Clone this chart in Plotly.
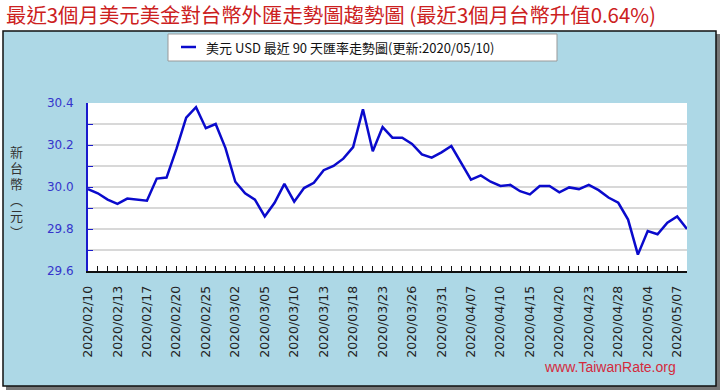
import plotly.graph_objects as go

# ---- data ----
dates = [
    "2020/02/10", "2020/02/11", "2020/02/12", "2020/02/13", "2020/02/14", "2020/02/15",
    "2020/02/17", "2020/02/18", "2020/02/19", "2020/02/20", "2020/02/21", "2020/02/24",
    "2020/02/25", "2020/02/26", "2020/02/27", "2020/03/02", "2020/03/03", "2020/03/04",
    "2020/03/05", "2020/03/06", "2020/03/09", "2020/03/10", "2020/03/11", "2020/03/12",
    "2020/03/13", "2020/03/16", "2020/03/17", "2020/03/18", "2020/03/19", "2020/03/20",
    "2020/03/23", "2020/03/24", "2020/03/25", "2020/03/26", "2020/03/27", "2020/03/30",
    "2020/03/31", "2020/04/01", "2020/04/06", "2020/04/07", "2020/04/08", "2020/04/09",
    "2020/04/10", "2020/04/13", "2020/04/14", "2020/04/15", "2020/04/16", "2020/04/17",
    "2020/04/20", "2020/04/21", "2020/04/22", "2020/04/23", "2020/04/24", "2020/04/27",
    "2020/04/28", "2020/04/29", "2020/04/30", "2020/05/04", "2020/05/05", "2020/05/06",
    "2020/05/07", "2020/05/08",
]
usd_twd = [
    29.99, 29.97, 29.94, 29.92, 29.945, 29.94,
    29.935, 30.04, 30.045, 30.18, 30.33, 30.38,
    30.28, 30.30, 30.185, 30.025, 29.97, 29.94,
    29.86, 29.925, 30.015, 29.93, 29.995, 30.02,
    30.08, 30.10, 30.135, 30.19, 30.37, 30.17,
    30.285, 30.235, 30.235, 30.205, 30.155, 30.14,
    30.165, 30.195, 30.115, 30.035, 30.055, 30.025,
    30.005, 30.01, 29.98, 29.965, 30.005, 30.005,
    29.975, 29.998, 29.99, 30.01, 29.985, 29.95,
    29.925, 29.845, 29.678, 29.79, 29.775, 29.83,
    29.86, 29.80,
]
y_ticks = [29.6, 29.8, 30.0, 30.2, 30.4]
label_step = 3

title_text = "最近3個月美元美金對台幣外匯走勢圖趨勢圖 (最近3個月台幣升值0.64%)"
series_name = "美元 USD 最近 90 天匯率走勢圖(更新:2020/05/10)"
y_title_chars = ["新", "台", "幣", "︵", "元", "︶"]
watermark = "www.TaiwanRate.org"

# ---- geometry (pixels) ----
W, H = 720, 391
L, R, T, B = 88, 33, 103, 120
PW, PH = W - L - R, H - T - B
LINE_COLOR = "#0A0ACC"


def px(x):
    return (x - L) / PW


def py(y):
    return (H - B - y) / PH


idx = list(range(len(dates)))
tick_idx = idx[::label_step]
tick_txt = [dates[i] for i in tick_idx]

fig = go.Figure()
fig.add_trace(go.Scatter(
    x=idx, y=usd_twd, mode="lines", name=series_name, showlegend=False,
    line=dict(color=LINE_COLOR, width=2.5),
))

shapes = [
    # shadow
    dict(type="rect", xref="paper", yref="paper", x0=px(6), x1=px(720), y0=py(390), y1=py(34),
         fillcolor="#777777", line=dict(width=0), layer="below"),
    # panel
    dict(type="rect", xref="paper", yref="paper", x0=px(3), x1=px(716), y0=py(386), y1=py(31),
         fillcolor="#ADD8E6", line=dict(color="#111111", width=1.5), layer="below"),
    # plot area
    dict(type="rect", xref="paper", yref="paper", x0=0, x1=1, y0=0, y1=1,
         fillcolor="white", line=dict(width=0), layer="below"),
    # legend box
    dict(type="rect", xref="paper", yref="paper", x0=px(168), x1=px(557), y0=py(61), y1=py(34),
         fillcolor="white", line=dict(color="#999999", width=1), layer="below"),
    # legend sample line
    dict(type="line", xref="paper", yref="paper", x0=px(181), x1=px(196), y0=py(47), y1=py(47),
         line=dict(color=LINE_COLOR, width=2.5)),
]

annotations = [
    dict(text=title_text, xref="paper", yref="paper", x=px(4), y=py(14),
         xanchor="left", yanchor="middle", showarrow=False,
         font=dict(family="Noto Sans CJK TC", size=20.4, color="#CC2020")),
    dict(text=series_name, xref="paper", yref="paper", x=px(204), y=py(47),
         xanchor="left", yanchor="middle", showarrow=False,
         font=dict(family="Noto Sans CJK TC", size=13, color="#111111")),
    dict(text=watermark, xref="paper", yref="paper", x=px(610), y=py(367),
         xanchor="center", yanchor="middle", showarrow=False,
         font=dict(family="Liberation Sans", size=14, color="#D42A3C")),
]
# vertical axis title, one glyph per row
for k, ch in enumerate(y_title_chars):
    annotations.append(dict(
        text=ch, xref="paper", yref="paper", x=px(16), y=py(151 + 16 * k),
        xanchor="center", yanchor="middle", showarrow=False, height=15, borderpad=0,
        font=dict(family="Noto Sans CJK TC", size=13, color="#333333"),
    ))

fig.update_layout(
    width=W, height=H,
    margin=dict(l=L, r=R, t=T, b=B, pad=0, autoexpand=False),
    paper_bgcolor="white", plot_bgcolor="white",
    shapes=shapes, annotations=annotations,
    showlegend=False,
    xaxis=dict(
        range=[0, len(dates) - 1], tickmode="array", tickvals=tick_idx, ticktext=tick_txt,
        tickangle=-90, ticks="inside", ticklen=5, tickcolor="#111111", tickwidth=1,
        ticklabelstandoff=8,
        tickfont=dict(family="DejaVu Sans", size=12.5, color="#222222"),
        showline=True, linecolor="#111111", linewidth=1.5, mirror=False,
        showgrid=False, zeroline=False, automargin=False,
        minor=dict(dtick=1, tick0=0, ticks="inside", ticklen=5, tickcolor="#111111", showgrid=False),
    ),
    yaxis=dict(
        range=[29.6, 30.4], tickmode="array", tickvals=y_ticks,
        ticktext=[f"{v:.1f}" for v in y_ticks],
        ticks="inside", ticklen=5, tickcolor="#1A1ACC", tickwidth=1,
        ticklabelstandoff=10,
        tickfont=dict(family="DejaVu Sans", size=12, color="#3535CC"),
        showline=True, linecolor="#1A1ACC", linewidth=2,
        showgrid=True, gridcolor="#D8D8D8", gridwidth=1.5,
        zeroline=False, automargin=False,
        minor=dict(dtick=0.1, tick0=29.6, ticks="inside", ticklen=5, tickcolor="#1A1ACC",
                   showgrid=True, gridcolor="#D8D8D8", gridwidth=1.5),
    ),
)

fig.write_html(
    "out.html",
    config={"displayModeBar": False},
    post_script="document.body.style.margin='0';document.body.style.padding='0';",
)
